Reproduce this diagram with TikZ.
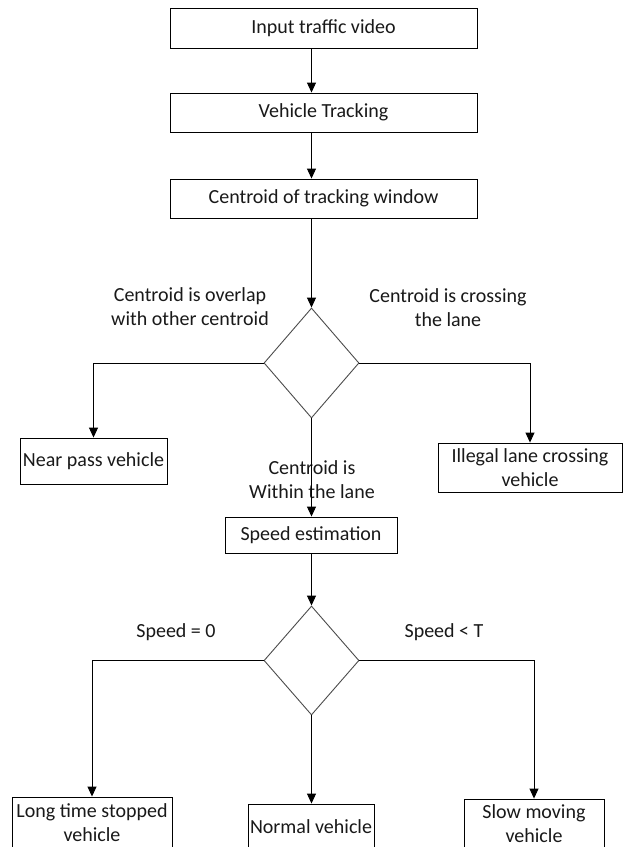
\documentclass[tikz,border=0pt]{standalone}
\usepackage{fontspec}
\setmainfont{Carlito}
\usetikzlibrary{arrows.meta,shapes.geometric,calc}
\begin{document}
\begin{tikzpicture}[x=1pt,y=-1pt,
  font=\fontsize{20}{24}\selectfont,
  box/.style={draw=black,line width=0.9pt,inner sep=0pt,align=center,text=black!90},
  dec/.style={draw=black!70,line width=0.9pt,diamond,inner sep=0pt,minimum width=95pt,minimum height=110pt},
  lab/.style={align=center,text=black!90,inner sep=0pt},
  arr/.style={line width=0.9pt,-{Triangle[length=10pt,width=9pt]}},
  ln/.style={line width=0.9pt}]
\useasboundingbox (0,0) rectangle (623,847);
\clip (0,0) rectangle (623,847);
\fill[white] (0,0) rectangle (623,847);
% boxes
\node[box,minimum width=307pt,minimum height=40pt] (b1) at (323.5,28) {Input traffic video};
\node[box,minimum width=307pt,minimum height=39pt] (b2) at (323.5,112.5) {Vehicle Tracking};
\node[box,minimum width=307pt,minimum height=39pt] (b3) at (323.5,198.5) {Centroid of tracking window};
\node[dec] (d1) at (311.5,363) {};
\node[box,minimum width=147pt,minimum height=46pt] (np) at (93.5,461) {Near pass vehicle};
\node[box,minimum width=184pt,minimum height=49pt] (il) at (530,467.5) {Illegal lane crossing\\vehicle};
\node[box,minimum width=172pt,minimum height=36pt] (sp) at (311,535) {Speed estimation};
\node[dec,minimum height=109pt] (d2) at (311.5,660.5) {};
\node[box,minimum width=160pt,minimum height=52pt] (lt) at (92,823) {Long time stopped\\vehicle};
\node[box,minimum width=126pt,minimum height=46pt] (nv) at (311,827) {Normal vehicle};
\node[box,minimum width=140pt,minimum height=50pt] (sm) at (534,824) {Slow moving\\vehicle};
% labels
\node[lab] (l1) at (190,307) {Centroid is overlap\\with other centroid};
\node[lab] (l2) at (448,308) {Centroid is crossing\\the lane};
\node[lab] (l3) at (312,480) {Centroid is\\Within the lane};
\node[lab] (l4) at (176,632) {Speed = 0};
\node[lab] (l5) at (444,632) {Speed < T};
% connectors
\draw[arr] (b1.south -| d1.north) -- (b2.north -| d1.north);
\draw[arr] (b2.south -| d1.north) -- (b3.north -| d1.north);
\draw[arr] (b3.south -| d1.north) -- (d1.north);
\draw[arr] (d1.west) -| (np.north);
\draw[arr] (d1.east) -| (il.north);
\draw[arr] (d1.south) -- (sp.north -| d1.south);
\draw[arr] (sp.south -| d2.north) -- (d2.north);
\draw[arr] (d2.west) -| (lt.north);
\draw[arr] (d2.east) -| (sm.north);
\draw[arr] (d2.south) -- (nv.north -| d2.south);
\end{tikzpicture}
\end{document}
